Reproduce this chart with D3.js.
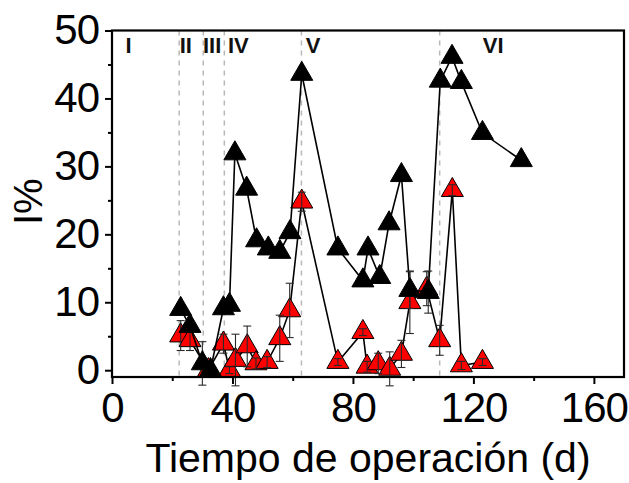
<!DOCTYPE html>
<html>
<head>
<meta charset="utf-8">
<script src="https://cdn.jsdelivr.net/npm/d3@7"></script>
<style>
  html, body { margin: 0; padding: 0; background: #fff; }
  svg { display: block; font-family: "Liberation Sans", Arial, sans-serif; }
</style>
</head>
<body>
<svg id="chart" width="629" height="483"></svg>
<script>
// Operating time (days) and I% for the two series, with their standard deviations
const daysBlack = [22.8, 25.9, 30, 32.7, 37, 39, 40.8, 44.7, 48, 51.9, 55.7, 59.1, 63, 75, 83.3, 85, 88.9, 92, 96.1, 98.9, 105, 109, 112.9, 116, 123, 135.9];
const pctBlack  = [9.0, 6.5, 1.0, 0.0, 9.1, 9.6, 31.9, 26.7, 19.1, 17.9, 17.4, 20.3, 43.6, 17.9, 13.2, 17.9, 13.7, 21.6, 28.7, 11.8, 11.5, 42.6, 46.1, 42.4, 34.9, 30.9];
const errBlack  = [0.5, 0.6, 3.2, 0.3, 0.5, 0.6, 0.5, 0.5, 0.5, 0.5, 0.5, 0.5, 0.5, 0.5, 0.5, 0.5, 0.5, 0.5, 0.8, 2.7, 3.1, 0.5, 0.5, 0.5, 0.5, 0.5];

const daysRed = [22.8, 25.9, 32, 37, 39, 41, 44.9, 47.8, 51.5, 55.7, 59, 63, 75, 83.3, 84.7, 88.4, 92.2, 96.1, 98.9, 104.5, 108.8, 113, 116, 123];
const pctRed  = [5.1, 4.4, 0.0, 3.9, 0.0, 1.5, 3.5, 1.0, 1.2, 4.7, 8.8, 24.8, 1.2, 5.6, 0.5, 1.0, 0.2, 2.4, 10.0, 12.0, 4.4, 26.5, 0.7, 1.2];
const errRed  = [2.2, 1.5, 0.5, 1.4, 0.5, 3.8, 3.0, 0.8, 0.8, 3.4, 4.0, 1.4, 0.5, 0.5, 0.8, 1.5, 2.5, 2.0, 4.6, 2.5, 2.2, 0.8, 0.6, 0.5];

// Operating phases: boundaries and labels
const phaseBounds = [22.3, 30.3, 37.3, 62.9, 108.8];
const phaseNames  = ["I", "II", "III", "IV", "V", "VI"];
const phaseLabelDay = [4.5, 22.5, 30.2, 38.5, 64.3, 123.1];

// Axis ticks
const xTicks = [0, 40, 80, 120, 160];
const xMinorTicks = [20, 60, 100, 140];
const yTicks = [0, 10, 20, 30, 40, 50];
const yMinorTicks = [5, 15, 25, 35, 45];

const xLabel = "Tiempo de operación (d)";
const yLabel = "I%";

const margin = { left: 112, right: 5, top: 30.5, bottom: 106 };
const W = 629, H = 483;

const svg = d3.select("#chart");
const x = d3.scaleLinear().domain([0, 170]).range([margin.left, W - margin.right]);
const y = d3.scaleLinear().domain([-1, 50]).range([H - margin.bottom, margin.top]);

const toPts = (xs, ys, es) => xs.map((d, i) => ({ x: d, y: ys[i], e: es[i] }));
const black = toPts(daysBlack, pctBlack, errBlack);
const red = toPts(daysRed, pctRed, errRed);

// Phase boundaries
svg.append("g").selectAll("line").data(phaseBounds).join("line")
  .attr("x1", d => x(d)).attr("x2", d => x(d))
  .attr("y1", y.range()[1]).attr("y2", y.range()[0])
  .attr("stroke", "#b8b8b8").attr("stroke-width", 1.5)
  .attr("stroke-dasharray", "5,5");

// Phase labels
svg.append("g").selectAll("text").data(phaseNames).join("text")
  .attr("x", (d, i) => x(phaseLabelDay[i]))
  .attr("y", 52.5)
  .attr("font-size", 22).attr("font-weight", "bold")
  .attr("fill", "#111")
  .text(d => d);

const line = d3.line().x(d => x(d.x)).y(d => y(d.y));
const tri = d3.symbol(d3.symbolTriangle, 210);

function errorBars(g, data) {
  const eb = g.selectAll("g.eb").data(data).join("g").attr("class", "eb")
    .attr("stroke", "#2a2a2a").attr("stroke-width", 1.1);
  eb.append("line")
    .attr("x1", d => x(d.x)).attr("x2", d => x(d.x))
    .attr("y1", d => y(d.y - d.e)).attr("y2", d => y(d.y + d.e));
  eb.append("line")
    .attr("x1", d => x(d.x) - 4).attr("x2", d => x(d.x) + 4)
    .attr("y1", d => y(d.y + d.e)).attr("y2", d => y(d.y + d.e));
  eb.append("line")
    .attr("x1", d => x(d.x) - 4).attr("x2", d => x(d.x) + 4)
    .attr("y1", d => y(d.y - d.e)).attr("y2", d => y(d.y - d.e));
}

function drawSeries(data, fill, barsOnTop) {
  const g = svg.append("g");
  g.append("path").datum(data).attr("d", line)
    .attr("fill", "none").attr("stroke", "#000").attr("stroke-width", 1.6);
  if (!barsOnTop) errorBars(g.append("g"), data);
  g.selectAll("path.m").data(data).join("path").attr("class", "m")
    .attr("d", tri)
    .attr("transform", d => `translate(${x(d.x)},${y(d.y)})`)
    .attr("fill", fill).attr("stroke", "#000").attr("stroke-width", 1);
  if (barsOnTop) errorBars(g.append("g"), data);
}
drawSeries(red, "#ff0000", true);
drawSeries(black, "#000000", false);

// Axes
const gx = svg.append("g").attr("transform", `translate(0,${y.range()[0]})`)
  .call(d3.axisBottom(x).tickValues(xTicks).tickSize(7).tickSizeOuter(0).tickPadding(8));
const gxm = svg.append("g").attr("transform", `translate(0,${y.range()[0]})`)
  .call(d3.axisBottom(x).tickValues(xMinorTicks).tickSize(4).tickFormat(""));
const gy = svg.append("g").attr("transform", `translate(${x.range()[0]},0)`)
  .call(d3.axisLeft(y).tickValues(yTicks).tickSize(7).tickSizeOuter(0).tickPadding(6));
const gym = svg.append("g").attr("transform", `translate(${x.range()[0]},0)`)
  .call(d3.axisLeft(y).tickValues(yMinorTicks).tickSize(4).tickFormat(""));

[gx, gxm, gy, gym].forEach(g => {
  g.select(".domain").remove();
  g.selectAll(".tick line").attr("stroke", "#000").attr("stroke-width", 2);
  g.selectAll(".tick text").attr("font-size", 42).attr("fill", "#000")
    .attr("letter-spacing", "-1px")
    .attr("font-family", "'Liberation Sans', Arial, sans-serif");
});

// Plot frame
svg.append("rect")
  .attr("x", x.range()[0]).attr("y", y.range()[1])
  .attr("width", x.range()[1] - x.range()[0])
  .attr("height", y.range()[0] - y.range()[1])
  .attr("fill", "none").attr("stroke", "#000").attr("stroke-width", 2.2);

// Axis titles
svg.append("text")
  .attr("x", (x.range()[0] + x.range()[1]) / 2).attr("y", 472)
  .attr("text-anchor", "middle").attr("font-size", 41).attr("fill", "#000")
  .text(xLabel);
svg.append("text")
  .attr("transform", `translate(42,${(y.range()[0] + y.range()[1]) / 2 - 2}) rotate(-90)`)
  .attr("text-anchor", "middle").attr("font-size", 40).attr("fill", "#000")
  .text(yLabel);
</script>
</body>
</html>
